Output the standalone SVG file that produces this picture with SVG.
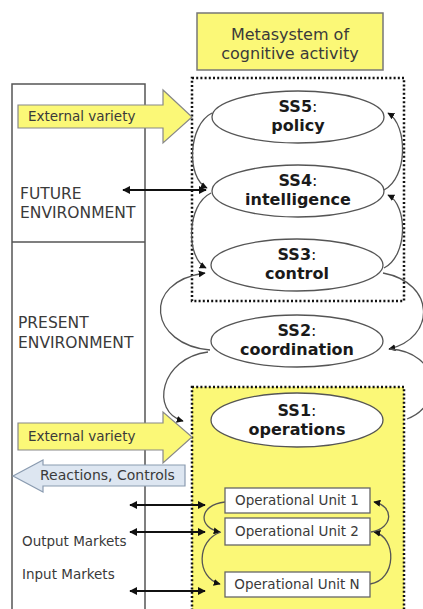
<svg xmlns="http://www.w3.org/2000/svg" width="423" height="609" viewBox="0 0 423 609">
<defs>
<marker id="ah" viewBox="0 0 10 10" refX="9" refY="5" markerWidth="7" markerHeight="7" markerUnits="userSpaceOnUse" orient="auto-start-reverse"><path d="M0,0 L10,5 L0,10 z" fill="#111"/></marker>
<marker id="bh" viewBox="0 0 10 10" refX="9" refY="5" markerWidth="8" markerHeight="8" markerUnits="userSpaceOnUse" orient="auto-start-reverse"><path d="M0,0 L10,5 L0,10 z" fill="#111"/></marker>
<style>
.t{font-family:"DejaVu Sans",Verdana,sans-serif;fill:#3a3a3a}
.lbl{font-family:"DejaVu Sans",Verdana,sans-serif;font-size:16px;font-weight:bold;fill:#1a1a1a;text-anchor:middle}
.ell{fill:#fff;stroke:#555;stroke-width:1.3}
.unit{fill:#fff;stroke:#666;stroke-width:1.3}
.conn{fill:none;stroke:#555;stroke-width:1.3}
.dbl{fill:none;stroke:#111;stroke-width:2}
.dot{fill:none;stroke:#111;stroke-width:2.5;stroke-dasharray:2 2.2}
.yel{fill:#fbf877}
</style>
</defs>
<rect width="423" height="609" fill="#fff"/>

<g id="environment">
<rect x="12" y="84" width="133" height="540" fill="#fff" stroke="#555" stroke-width="1.5"/>
<line x1="12" y1="242" x2="145" y2="242" stroke="#555" stroke-width="1.5"/>
<text class="t" font-size="15.5"><tspan x="20" y="199">FUTURE</tspan><tspan x="20" y="218">ENVIRONMENT</tspan></text>
<text class="t" font-size="15.5"><tspan x="18" y="328">PRESENT</tspan><tspan x="18" y="348">ENVIRONMENT</tspan></text>
<text class="t" x="22" y="546" font-size="13.5">Output Markets</text>
<text class="t" x="22" y="579" font-size="13.5">Input Markets</text>
</g>

<g id="title">
<rect x="197" y="13" width="186" height="57" class="yel" stroke="#777" stroke-width="1.5"/>
<text class="t" font-size="16" text-anchor="middle"><tspan x="290" y="40">Metasystem of</tspan><tspan x="290" y="59">cognitive activity</tspan></text>
</g>

<g id="metasystem">
<rect x="192" y="78" width="212" height="223" class="dot"/>
</g>

<g id="ss1box">
<rect x="192" y="387" width="212" height="240" class="yel"/>
<rect x="192" y="387" width="212" height="240" class="dot"/>
</g>

<g id="connectors">
<path class="conn" d="M212,113 C188,125 186,178 207,188" marker-end="url(#ah)"/>
<path class="conn" d="M211,193 C186,205 186,258 206,268" marker-end="url(#ah)"/>
<path class="conn" d="M384,190 C408,178 408,125 388,113" marker-end="url(#ah)"/>
<path class="conn" d="M384,268 C408,256 408,205 388,195" marker-end="url(#ah)"/>
<path class="conn" d="M210,350 C150,345 140,282 205,273" marker-end="url(#ah)"/>
<path class="conn" d="M208,352 C160,358 150,412 183,421" marker-end="url(#ah)"/>
<path class="conn" d="M383,273 C436,283 436,338 389,349" marker-end="url(#ah)"/>
<path class="conn" d="M407,419 C445,405 440,352 390,349"/>
<path class="conn" d="M225,502 C198,505 198,528 220,532" marker-end="url(#ah)"/>
<path class="conn" d="M221,532 C196,540 196,578 220,584" marker-end="url(#ah)"/>
<path class="conn" d="M370,584 C397,580 397,537 374,532" marker-end="url(#ah)"/>
<path class="conn" d="M371,532 C394,528 394,506 374,502" marker-end="url(#ah)"/>
<path class="dbl" d="M123,190 L206,190" marker-start="url(#bh)" marker-end="url(#bh)"/>
<path class="dbl" d="M130,505 L205,505" marker-start="url(#bh)" marker-end="url(#bh)"/>
<path class="dbl" d="M130,532 L205,532" marker-start="url(#bh)" marker-end="url(#bh)"/>
<path class="dbl" d="M130,591 L205,591" marker-start="url(#bh)" marker-end="url(#bh)"/>
</g>

<g id="ss5">
<ellipse class="ell" cx="298" cy="117" rx="86" ry="26"/>
<text class="lbl"><tspan x="298" y="112">SS5</tspan><tspan font-weight="normal">:</tspan><tspan x="298" y="131">policy</tspan></text>
</g>
<g id="ss4">
<ellipse class="ell" cx="298" cy="191" rx="86" ry="26"/>
<text class="lbl"><tspan x="298" y="186">SS4</tspan><tspan font-weight="normal">:</tspan><tspan x="298" y="205">intelligence</tspan></text>
</g>
<g id="ss3">
<ellipse class="ell" cx="297" cy="265" rx="86" ry="26"/>
<text class="lbl"><tspan x="297" y="260">SS3</tspan><tspan font-weight="normal">:</tspan><tspan x="297" y="279">control</tspan></text>
</g>
<g id="ss2">
<ellipse class="ell" cx="297" cy="341" rx="86" ry="26"/>
<text class="lbl"><tspan x="297" y="336">SS2</tspan><tspan font-weight="normal">:</tspan><tspan x="297" y="355">coordination</tspan></text>
</g>
<g id="ss1">
<ellipse class="ell" cx="297" cy="420" rx="86" ry="27"/>
<text class="lbl"><tspan x="297" y="416">SS1</tspan><tspan font-weight="normal">:</tspan><tspan x="297" y="435">operations</tspan></text>
</g>

<g id="ext1">
<polygon points="18,105 163,105 163,90 192,117 163,143 163,128 18,128" class="yel" stroke="#888" stroke-width="1.2"/>
<text class="t" x="28" y="121" font-size="13.5">External variety</text>
</g>
<g id="ext2">
<polygon points="18,423 163,423 163,412 192,437 163,463 163,450 18,450" class="yel" stroke="#888" stroke-width="1.2"/>
<text class="t" x="28" y="441" font-size="13.5">External variety</text>
</g>
<g id="reactions">
<polygon points="13,476 43,460 43,465 185,465 185,486 43,486 43,492" fill="#dde6f1" stroke="#8a9bb0" stroke-width="1.2"/>
<text class="t" x="40" y="480" font-size="14">Reactions, Controls</text>
</g>

<g id="unit1">
<rect class="unit" x="225" y="488" width="145" height="25"/>
<text class="t" x="297" y="505" font-size="13.5" text-anchor="middle">Operational Unit 1</text>
</g>
<g id="unit2">
<rect class="unit" x="225" y="518" width="145" height="27"/>
<text class="t" x="297" y="536" font-size="13.5" text-anchor="middle">Operational Unit 2</text>
</g>
<g id="unitN">
<rect class="unit" x="225" y="572" width="145" height="25"/>
<text class="t" x="297" y="589" font-size="13.5" text-anchor="middle">Operational Unit N</text>
</g>
</svg>
